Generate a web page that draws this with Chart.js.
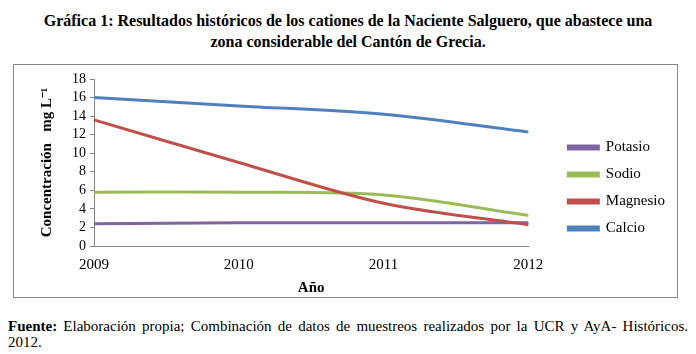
<!DOCTYPE html>
<html>
<head>
<meta charset="utf-8">
<script src="https://cdn.jsdelivr.net/npm/chart.js@4/dist/chart.umd.min.js"></script>
<style>
    body { margin: 0; background: #fff; width: 696px; height: 354px; position: relative; overflow: hidden; font-family: "Times New Roman", "Liberation Serif", Tinos, "Nimbus Roman", FreeSerif, "DejaVu Serif", serif; color: #000; }
    .title { position: absolute; left: 0; top: 10px; width: 696px; text-align: center; font-weight: bold; font-size: 16px; line-height: 21px; }
    .frame { position: absolute; left: 13px; top: 64px; width: 663px; height: 232px; border: 1px solid #868686; }
    .frame canvas { display: block; }
    .source { position: absolute; left: 8px; top: 318px; width: 680px; font-size: 15px; line-height: 16px; text-align: justify; text-align-last: left; }
</style>
</head>
<body>
<div class="title">Gráfica 1: Resultados históricos de los cationes de la Naciente Salguero, que abastece una<br>zona considerable del Cantón de Grecia.</div>
<div class="frame"><canvas id="cationChart" width="663" height="232"></canvas></div>
<div class="source"><b>Fuente:</b> Elaboración propia; Combinación de datos de muestreos realizados por la UCR y AyA- Históricos. 2012.</div>
<script>
const years = ['2009', '2010', '2011', '2012'];
const potasio = [2.4, 2.5, 2.5, 2.5];
const sodio = [5.8, 5.8, 5.5, 3.3];
const magnesio = [13.6, 9.0, 4.6, 2.3];
const calcio = [16.0, 15.1, 14.2, 12.3];
const yTicks = [0, 2, 4, 6, 8, 10, 12, 14, 16, 18];

const serif = '"Times New Roman", "Liberation Serif", Tinos, "Nimbus Roman", FreeSerif, "DejaVu Serif", serif';

function series(label, data, color, order) {
    return {
        label: label,
        data: data,
        borderColor: color,
        backgroundColor: color,
        borderWidth: 3,
        pointRadius: 0,
        tension: 0.33,
        fill: false,
        order: order
    };
}

// push the legend away from the plot, like the gap in the original
const legendShift = {
    id: 'legendShift',
    afterLayout(chart) {
        chart.legend.left += 28;
        chart.legend.right += 28;
    }
};

const ctx = document.getElementById('cationChart').getContext('2d');
new Chart(ctx, {
    type: 'line',
    data: {
        labels: years,
        datasets: [
            series('Potasio', potasio, '#8064A2', 4),
            series('Sodio', sodio, '#9BBB59', 3),
            series('Magnesio', magnesio, '#C0504D', 2),
            series('Calcio', calcio, '#4F81BD', 1)
        ]
    },
    plugins: [legendShift],
    options: {
        responsive: false,
        animation: false,
        layout: { padding: { left: 24, top: 14, right: 30, bottom: 0 } },
        plugins: {
            legend: {
                position: 'right',
                align: 'center',
                labels: {
                    boxWidth: 30,
                    boxHeight: 3,
                    padding: 12,
                    color: '#000',
                    font: { family: serif, size: 15 },
                    sort: (a, b) => a.datasetIndex - b.datasetIndex
                }
            },
            tooltip: { enabled: false }
        },
        scales: {
            x: {
                offset: false,
                grid: { display: false, drawTicks: false },
                border: { color: '#868686', width: 1 },
                ticks: { color: '#000', padding: 10, maxRotation: 0, font: { family: serif, size: 15 } },
                title: { display: true, text: 'Año', color: '#000', padding: { top: 2, bottom: 0 }, font: { family: serif, size: 15, weight: 'bold' } },
                afterFit: (scale) => { scale.height = 51; }
            },
            y: {
                min: 0,
                max: 18,
                afterBuildTicks: (scale) => { scale.ticks = yTicks.map(v => ({ value: v })); },
                grid: { drawOnChartArea: false, tickLength: 4, color: '#868686' },
                border: { color: '#868686', width: 1 },
                ticks: { color: '#000', padding: 4, autoSkip: false, font: { family: serif, size: 14 } },
                title: { display: true, text: 'Concentración   mg L⁻¹', color: '#000', padding: { top: 0, bottom: 4 }, font: { family: serif, size: 15, weight: 'bold' } },
                afterFit: (scale) => { scale.width = 56; }
            }
        }
    }
});
</script>
</body>
</html>
